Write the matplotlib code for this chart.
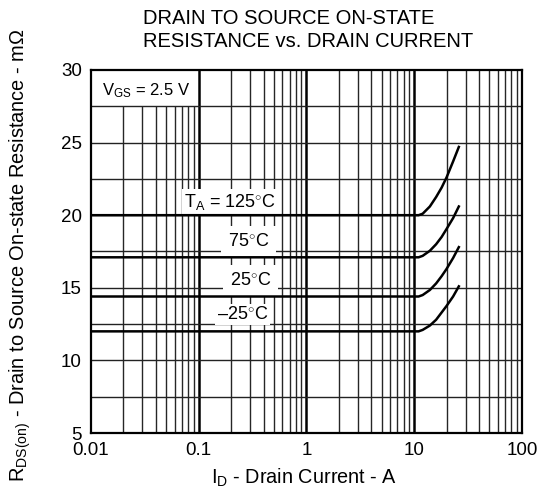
import matplotlib
matplotlib.use('Agg')
import matplotlib.pyplot as plt
import numpy as np

plt.rcParams['font.family'] = ['Liberation Sans', 'DejaVu Sans']
plt.rcParams['mathtext.fontset'] = 'custom'
plt.rcParams['mathtext.rm'] = 'Liberation Sans'
plt.rcParams['mathtext.it'] = 'Liberation Sans'

# drain current (A) and on-resistance (mOhm)
current = [0.01, 11, 12, 14, 16, 18, 20, 23, 26]
r_125 = [20.0, 20.0, 20.1, 20.6, 21.25, 21.9, 22.6, 23.7, 24.7]
r_75 = [17.1, 17.1, 17.2, 17.55, 18.0, 18.5, 19.05, 19.8, 20.6]
r_25 = [14.4, 14.4, 14.5, 14.85, 15.3, 15.8, 16.3, 17.05, 17.8]
r_m25 = [12.0, 12.0, 12.1, 12.4, 12.8, 13.3, 13.75, 14.4, 15.1]

x_ticks = [0.01, 0.1, 1, 10, 100]
x_labels = ['0.01', '0.1', '1', '10', '100']
y_ticks = [5, 10, 15, 20, 25, 30]

fig = plt.figure(figsize=(5.38, 4.88), dpi=100)
ax = fig.add_axes([0.169, 0.1127, 0.801, 0.7439])
ax.set_xscale('log')
ax.set_xlim(0.01, 100)
ax.set_ylim(5, 30)

# grid drawn by hand so the V_GS box keeps its cell clear
for d in [0.01, 0.1, 1, 10]:
    for m in range(2, 10):
        top = 27.5 if d == 0.01 else 30
        ax.vlines(d * m, 5, top, color='#262626', lw=1.0, zorder=1)
for d in [0.1, 1, 10]:
    ax.vlines(d, 5, 30, color='black', lw=1.8, zorder=1)
for y in np.arange(7.5, 30, 2.5):
    ax.hlines(y, 0.01, 100, color='#222222', lw=1.0, zorder=1)

for r in [r_125, r_75, r_25, r_m25]:
    ax.plot(current, r, color='black', lw=1.8, zorder=4)

fs = 13
box = dict(facecolor='white', edgecolor='none', pad=1.5)
wide = dict(facecolor='white', edgecolor='none', pad=5)
ax.text(0.0126, 28.55, r'V$_{\mathregular{GS}}$ = 2.5 V', fontsize=12, va='center', ha='left', zorder=3)
ax.text(0.197, 20.94, r'T$_{\mathregular{A}}$ = 125$^{\circ}$C', fontsize=fs, va='center', ha='center', bbox=box, zorder=3)
ax.text(0.291, 18.19, r'75$^{\circ}$C', fontsize=fs, va='center', ha='center', bbox=wide, zorder=3)
ax.text(0.302, 15.5, r'25$^{\circ}$C', fontsize=fs, va='center', ha='center', bbox=wide, zorder=3)
ax.text(0.255, 13.16, '\u201325$^{\\circ}$C', fontsize=fs, va='center', ha='center', bbox=box, zorder=3)

ax.set_xticks(x_ticks)
ax.set_xticklabels(x_labels)
ax.set_yticks(y_ticks)
ax.minorticks_off()
ax.tick_params(axis='x', length=0, labelsize=13.5, pad=6.5)
ax.tick_params(axis='y', length=0, labelsize=13.5, pad=6.5)
for s in ax.spines.values():
    s.set_linewidth(1.6)
    s.set_zorder(5)

ax.set_ylabel(r'R$_{\mathregular{DS(on)}}$ - Drain to Source On-state Resistance - m$\Omega$', fontsize=14.4)
ax.yaxis.set_label_coords(-0.135, 0.49)
fig.text(0.566, 0.009, r'I$_{\mathregular{D}}$ - Drain Current - A', fontsize=14.3, ha='center', va='baseline')
fig.text(0.266, 0.9625, 'DRAIN TO SOURCE ON-STATE', fontsize=14.5, ha='left', va='center')
fig.text(0.266, 0.9145, 'RESISTANCE vs. DRAIN CURRENT', fontsize=14.5, ha='left', va='center')

fig.savefig('out.png', dpi=100)
